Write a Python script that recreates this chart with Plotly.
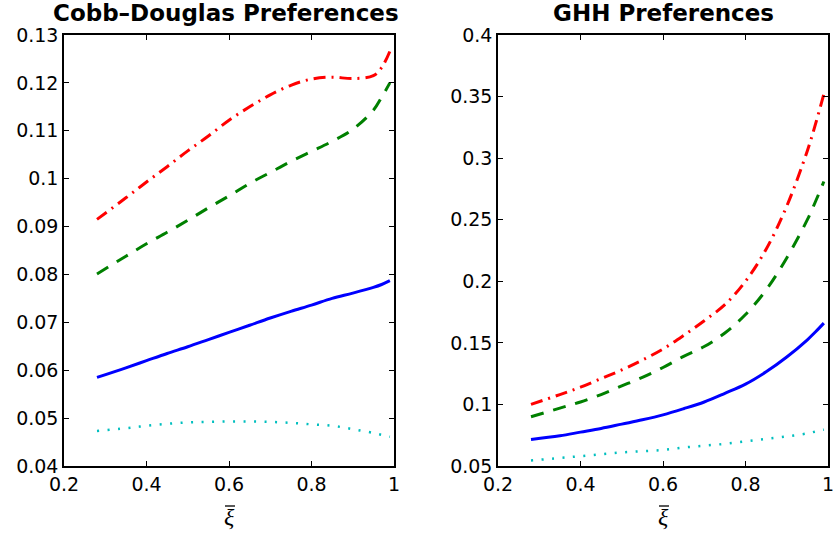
import plotly.graph_objects as go

# ---- data ----
xi = [0.28, 0.35, 0.40, 0.45, 0.50, 0.55, 0.60, 0.65, 0.70, 0.75, 0.80, 0.85, 0.90, 0.95, 0.97, 0.99]

cd_red   = [0.0915, 0.0960, 0.0993, 0.1025, 0.1058, 0.1089, 0.1122, 0.1150, 0.1175, 0.1195, 0.1208, 0.1212, 0.1209, 0.1215, 0.1232, 0.1266]
cd_green = [0.0801, 0.0838, 0.0864, 0.0888, 0.0913, 0.0939, 0.0964, 0.0990, 0.1013, 0.1036, 0.1057, 0.1078, 0.1103, 0.1143, 0.1170, 0.1200]
cd_blue  = [0.0585, 0.0605, 0.0620, 0.0635, 0.0649, 0.0664, 0.0679, 0.0694, 0.0709, 0.0723, 0.0736, 0.0750, 0.0761, 0.0773, 0.0779, 0.0787]
cd_cyan  = [0.0473, 0.0479, 0.0484, 0.0488, 0.0491, 0.0492, 0.0493, 0.0493, 0.0492, 0.0490, 0.0487, 0.0484, 0.0477, 0.0469, 0.0465, 0.0461]

ghh_red   = [0.100, 0.108, 0.114, 0.121, 0.128, 0.136, 0.145, 0.156, 0.168, 0.181, 0.200, 0.226, 0.261, 0.306, 0.328, 0.352]
ghh_green = [0.090, 0.097, 0.102, 0.108, 0.115, 0.122, 0.130, 0.139, 0.147, 0.158, 0.173, 0.193, 0.219, 0.250, 0.265, 0.281]
ghh_blue  = [0.0715, 0.0745, 0.0775, 0.0805, 0.0840, 0.0875, 0.0915, 0.0965, 0.1020, 0.1090, 0.1165, 0.1265, 0.1385, 0.1525, 0.1590, 0.1660]
ghh_cyan  = [0.0545, 0.0565, 0.0580, 0.0595, 0.0610, 0.0620, 0.0630, 0.0650, 0.0665, 0.0680, 0.0700, 0.0720, 0.0740, 0.0765, 0.0780, 0.0795]

x_ticks = [0.2, 0.4, 0.6, 0.8, 1.0]
x_ticktext = ["0.2", "0.4", "0.6", "0.8", "1"]
cd_yticks = [0.04, 0.05, 0.06, 0.07, 0.08, 0.09, 0.10, 0.11, 0.12, 0.13]
cd_yticktext = ["0.04", "0.05", "0.06", "0.07", "0.08", "0.09", "0.1", "0.11", "0.12", "0.13"]
ghh_yticks = [0.05, 0.10, 0.15, 0.20, 0.25, 0.30, 0.35, 0.40]
ghh_yticktext = ["0.05", "0.1", "0.15", "0.2", "0.25", "0.3", "0.35", "0.4"]

titles = ["Cobb\u2013Douglas Preferences", "GHH Preferences"]
xlabel = "\u03be"

# ---- styles ----
styles = {
    "red":   dict(color="#FF0000", width=3, dash="12px,6px,2px,6px"),
    "green": dict(color="#008000", width=3, dash="13px,10px"),
    "blue":  dict(color="#0000FF", width=3),
    "cyan":  dict(color="#00BFBF", width=2.5, dash="2px,8.5px"),
}

fig = go.Figure()
panels = [
    ("x", "y", [cd_cyan, cd_blue, cd_green, cd_red]),
    ("x2", "y2", [ghh_cyan, ghh_blue, ghh_green, ghh_red]),
]
names = ["cyan", "blue", "green", "red"]
for xa, ya, series in panels:
    for nm, ys in zip(names, series):
        fig.add_trace(go.Scatter(x=xi, y=ys, mode="lines", line=dict(shape="spline", **styles[nm]),
                                 xaxis=xa, yaxis=ya, showlegend=False, hoverinfo="skip"))

W, H = 833, 534
axcommon = dict(showline=True, linecolor="black", linewidth=1.5, mirror="ticks",
                ticks="inside", ticklen=5, tickcolor="black", tickwidth=1,
                showgrid=False, zeroline=False, automargin=False, ticklabeloverflow="allow",
                tickfont=dict(family="DejaVu Sans", size=19, color="black"))
ydom = [1 - 466 / H, 1 - 35 / H]
fig.update_layout(
    width=W, height=H, margin=dict(l=0, r=0, t=0, b=0),
    paper_bgcolor="white", plot_bgcolor="white",
    xaxis=dict(domain=[64 / W, 394 / W], range=[0.2, 1.0], tickvals=x_ticks, ticktext=x_ticktext, anchor="y", **axcommon),
    yaxis=dict(domain=ydom, range=[0.04, 0.13], tickvals=cd_yticks, ticktext=cd_yticktext, anchor="x", **axcommon),
    xaxis2=dict(domain=[498 / W, 828 / W], range=[0.2, 1.0], tickvals=x_ticks, ticktext=x_ticktext, anchor="y2", **axcommon),
    yaxis2=dict(domain=ydom, range=[0.05, 0.40], tickvals=ghh_yticks, ticktext=ghh_yticktext, anchor="x2", **axcommon),
)

# titles
fig.add_annotation(text="<b>" + titles[0] + "</b>", x=226 / W, y=1 - 13 / H, xref="paper", yref="paper",
                   xanchor="center", yanchor="middle", showarrow=False,
                   font=dict(family="DejaVu Sans", size=23, color="black"))
fig.add_annotation(text="<b>" + titles[1] + "</b>", x=663 / W, y=1 - 13 / H, xref="paper", yref="paper",
                   xanchor="center", yanchor="middle", showarrow=False,
                   font=dict(family="DejaVu Sans", size=23, color="black"))

# x-axis labels (xi with a bar drawn as a short line)
for cx in [229, 663]:
    fig.add_annotation(text="<i>" + xlabel + "</i>", x=cx / W, y=1 - 517 / H, xref="paper", yref="paper",
                       xanchor="center", yanchor="middle", showarrow=False,
                       font=dict(family="Liberation Serif", size=24, color="black"))
    fig.add_shape(type="line", xref="paper", yref="paper",
                  x0=(cx - 4) / W, x1=(cx + 6) / W, y0=1 - 506 / H, y1=1 - 506 / H,
                  line=dict(color="black", width=1.3))

fig.write_html("out.html", config={"displayModeBar": False},
               post_script="document.body.style.margin='0';document.body.style.overflow='hidden';")
